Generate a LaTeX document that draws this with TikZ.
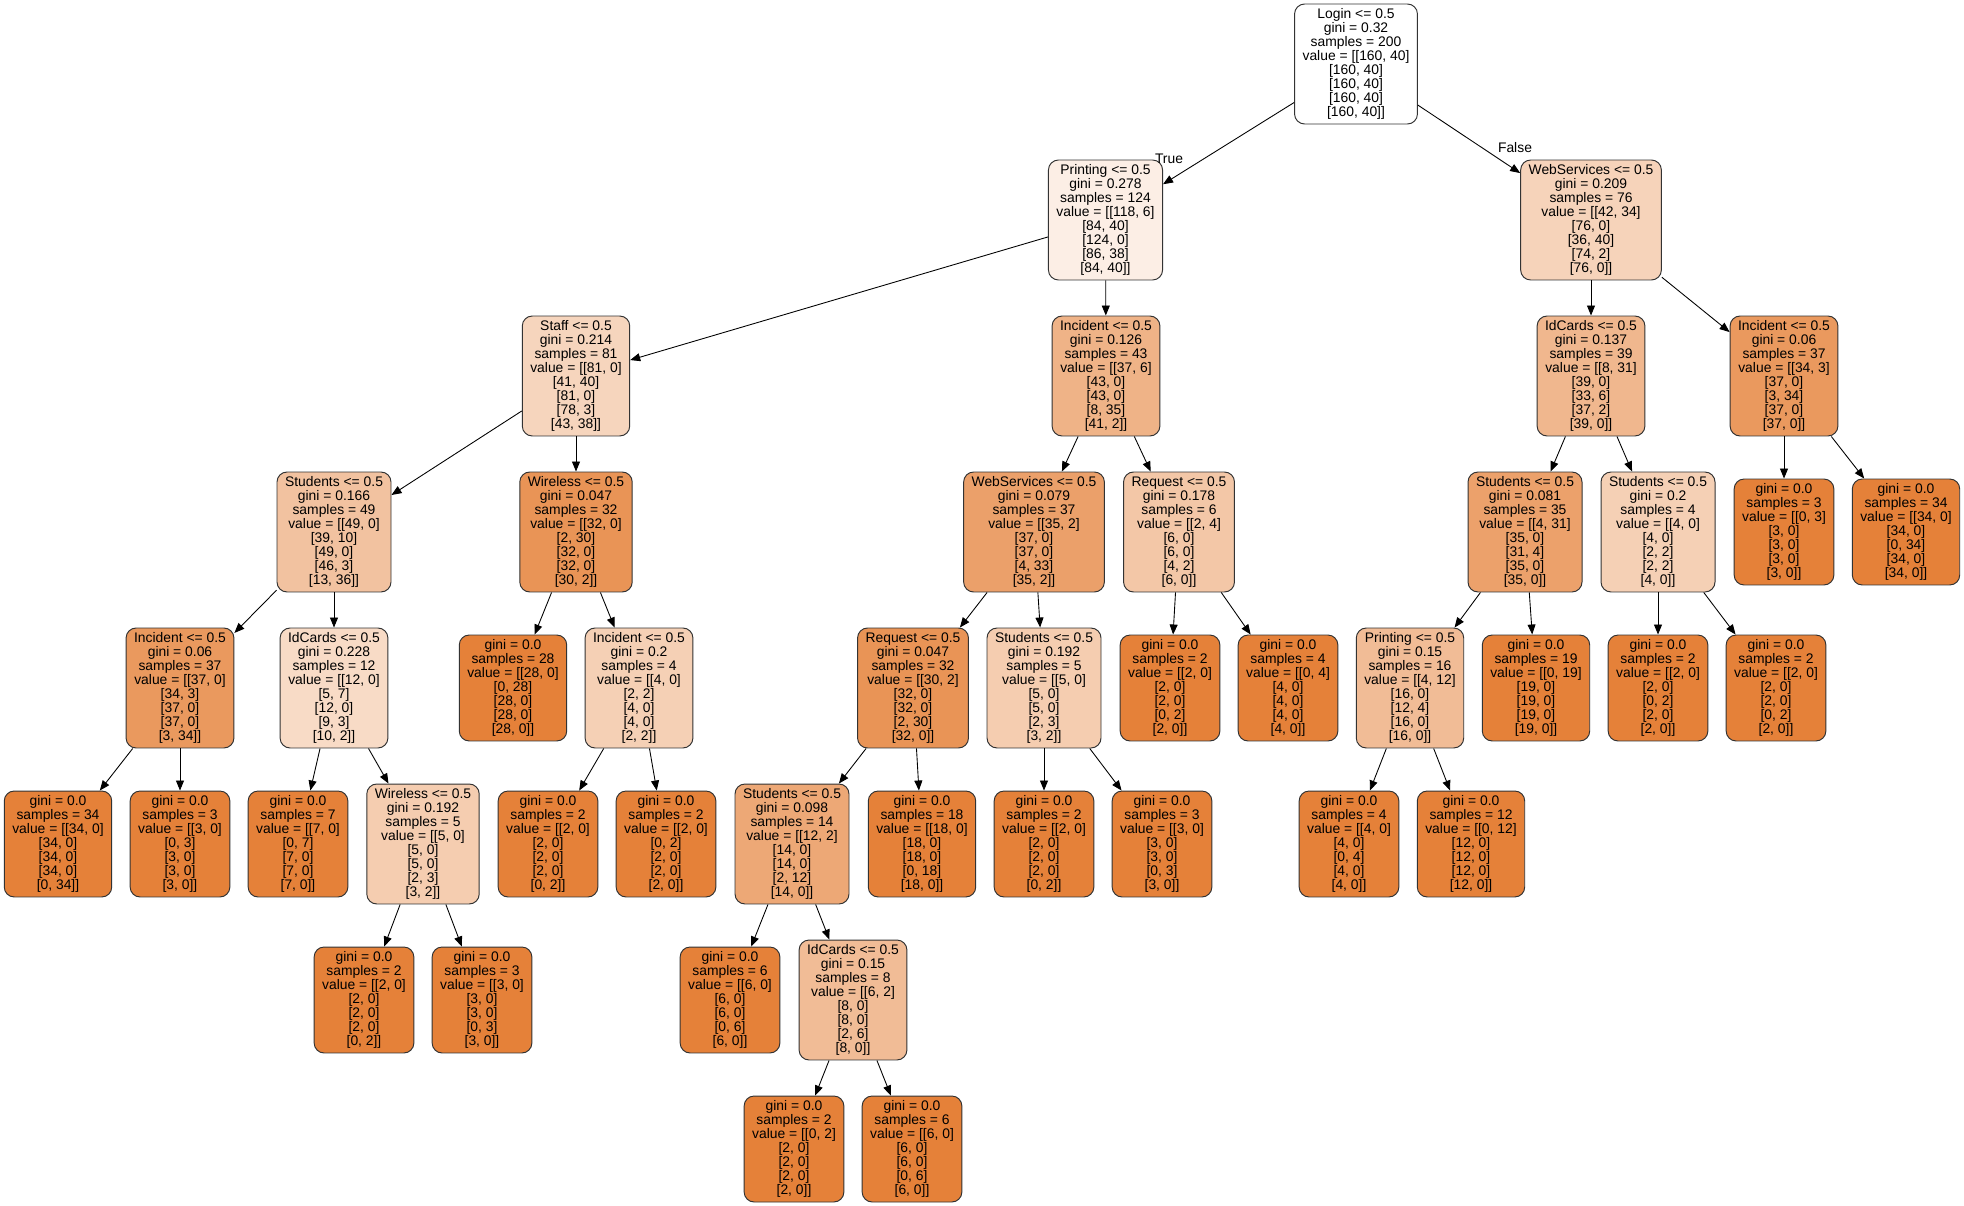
\documentclass[tikz,border=0pt]{standalone}
\usepackage{fontspec}
\setmainfont{Liberation Sans}
\usetikzlibrary{arrows.meta}
\definecolor{gorange}{RGB}{229,129,57}
\newcommand{\treefont}{\fontsize{7.9}{7.97}\selectfont}
\newcommand{\vals}[5]{value = [[#1]\\{}[#2]\\{}[#3]\\{}[#4]\\{}[#5]]}
\begin{document}
\begin{tikzpicture}[x=0.02cm, y=-0.02cm,
	box/.style={draw=black!80, line width=0.55pt, rounded corners=0.2cm, align=center, inner xsep=0.16cm, inner ysep=0pt, font=\treefont},
	split/.style={box, minimum height=2.4cm},
	leaf/.style={box, minimum height=2.12cm, fill=gorange},
	link/.style={-{Triangle[length=0.2cm, width=0.16cm]}, line width=0.5pt}]
	\useasboundingbox (0,0) rectangle (1964,1206);
	% Splits
	\node[split, fill=white] (root) at (1356,64) {Login <= 0.5\\gini = 0.32\\samples = 200\\\vals{160, 40}{160, 40}{160, 40}{160, 40}{160, 40}};
	\node[split, fill=gorange!13.1] (L) at (1105.5,220) {Printing <= 0.5\\gini = 0.278\\samples = 124\\\vals{118, 6}{84, 40}{124, 0}{86, 38}{84, 40}};
	\node[split, fill=gorange!34.7] (R) at (1591,220) {WebServices <= 0.5\\gini = 0.209\\samples = 76\\\vals{42, 34}{76, 0}{36, 40}{74, 2}{76, 0}};
	\node[split, fill=gorange!33.1] (LL) at (576,376) {Staff <= 0.5\\gini = 0.214\\samples = 81\\\vals{81, 0}{41, 40}{81, 0}{78, 3}{43, 38}};
	\node[split, fill=gorange!60.6] (LR) at (1106,376) {Incident <= 0.5\\gini = 0.126\\samples = 43\\\vals{37, 6}{43, 0}{43, 0}{8, 35}{41, 2}};
	\node[split, fill=gorange!57.2] (RL) at (1591,376) {IdCards <= 0.5\\gini = 0.137\\samples = 39\\\vals{8, 31}{39, 0}{33, 6}{37, 2}{39, 0}};
	\node[split, fill=gorange!81.25] (RR) at (1784,376) {Incident <= 0.5\\gini = 0.06\\samples = 37\\\vals{34, 3}{37, 0}{3, 34}{37, 0}{37, 0}};
	\node[split, fill=gorange!48.1] (LLL) at (334,532) {Students <= 0.5\\gini = 0.166\\samples = 49\\\vals{49, 0}{39, 10}{49, 0}{46, 3}{13, 36}};
	\node[split, fill=gorange!85.3] (LLR) at (576,532) {Wireless <= 0.5\\gini = 0.047\\samples = 32\\\vals{32, 0}{2, 30}{32, 0}{32, 0}{30, 2}};
	\node[split, fill=gorange!75.3] (LRL) at (1034,532) {WebServices <= 0.5\\gini = 0.079\\samples = 37\\\vals{35, 2}{37, 0}{37, 0}{4, 33}{35, 2}};
	\node[split, fill=gorange!44.4] (LRR) at (1179,532) {Request <= 0.5\\gini = 0.178\\samples = 6\\\vals{2, 4}{6, 0}{6, 0}{4, 2}{6, 0}};
	\node[split, fill=gorange!74.7] (RLL) at (1525,532) {Students <= 0.5\\gini = 0.081\\samples = 35\\\vals{4, 31}{35, 0}{31, 4}{35, 0}{35, 0}};
	\node[split, fill=gorange!37.5] (RLR) at (1658,532) {Students <= 0.5\\gini = 0.2\\samples = 4\\\vals{4, 0}{4, 0}{2, 2}{2, 2}{4, 0}};
	\node[split, fill=gorange!81.25] (LLLL) at (180,688) {Incident <= 0.5\\gini = 0.06\\samples = 37\\\vals{37, 0}{34, 3}{37, 0}{37, 0}{3, 34}};
	\node[split, fill=gorange!28.75] (LLLR) at (334,688) {IdCards <= 0.5\\gini = 0.228\\samples = 12\\\vals{12, 0}{5, 7}{12, 0}{9, 3}{10, 2}};
	\node[split, fill=gorange!37.5] (LLRR) at (639,688) {Incident <= 0.5\\gini = 0.2\\samples = 4\\\vals{4, 0}{2, 2}{4, 0}{4, 0}{2, 2}};
	\node[split, fill=gorange!85.3] (LRLL) at (913,688) {Request <= 0.5\\gini = 0.047\\samples = 32\\\vals{30, 2}{32, 0}{32, 0}{2, 30}{32, 0}};
	\node[split, fill=gorange!40] (LRLR) at (1044,688) {Students <= 0.5\\gini = 0.192\\samples = 5\\\vals{5, 0}{5, 0}{5, 0}{2, 3}{3, 2}};
	\node[split, fill=gorange!53.1] (RLLL) at (1410,688) {Printing <= 0.5\\gini = 0.15\\samples = 16\\\vals{4, 12}{16, 0}{12, 4}{16, 0}{16, 0}};
	\node[split, fill=gorange!40] (LLLRR) at (423,844) {Wireless <= 0.5\\gini = 0.192\\samples = 5\\\vals{5, 0}{5, 0}{5, 0}{2, 3}{3, 2}};
	\node[split, fill=gorange!69.4] (LRLLL) at (792,844) {Students <= 0.5\\gini = 0.098\\samples = 14\\\vals{12, 2}{14, 0}{14, 0}{2, 12}{14, 0}};
	\node[split, fill=gorange!53.1] (LRLLLR) at (853,1000) {IdCards <= 0.5\\gini = 0.15\\samples = 8\\\vals{6, 2}{8, 0}{8, 0}{2, 6}{8, 0}};
	% Leaves
	\node[leaf] (RRL) at (1784,532) {gini = 0.0\\samples = 3\\\vals{0, 3}{3, 0}{3, 0}{3, 0}{3, 0}};
	\node[leaf] (RRR) at (1906,532) {gini = 0.0\\samples = 34\\\vals{34, 0}{34, 0}{0, 34}{34, 0}{34, 0}};
	\node[leaf] (LLRL) at (513,688) {gini = 0.0\\samples = 28\\\vals{28, 0}{0, 28}{28, 0}{28, 0}{28, 0}};
	\node[leaf] (LRRL) at (1170,688) {gini = 0.0\\samples = 2\\\vals{2, 0}{2, 0}{2, 0}{0, 2}{2, 0}};
	\node[leaf] (LRRR) at (1288,688) {gini = 0.0\\samples = 4\\\vals{0, 4}{4, 0}{4, 0}{4, 0}{4, 0}};
	\node[leaf] (RLLR) at (1536,688) {gini = 0.0\\samples = 19\\\vals{0, 19}{19, 0}{19, 0}{19, 0}{19, 0}};
	\node[leaf] (RLRL) at (1658,688) {gini = 0.0\\samples = 2\\\vals{2, 0}{2, 0}{0, 2}{2, 0}{2, 0}};
	\node[leaf] (RLRR) at (1776,688) {gini = 0.0\\samples = 2\\\vals{2, 0}{2, 0}{2, 0}{0, 2}{2, 0}};
	\node[leaf] (LLLLL) at (58,844) {gini = 0.0\\samples = 34\\\vals{34, 0}{34, 0}{34, 0}{34, 0}{0, 34}};
	\node[leaf] (LLLLR) at (180,844) {gini = 0.0\\samples = 3\\\vals{3, 0}{0, 3}{3, 0}{3, 0}{3, 0}};
	\node[leaf] (LLLRL) at (298,844) {gini = 0.0\\samples = 7\\\vals{7, 0}{0, 7}{7, 0}{7, 0}{7, 0}};
	\node[leaf] (LLRRL) at (548,844) {gini = 0.0\\samples = 2\\\vals{2, 0}{2, 0}{2, 0}{2, 0}{0, 2}};
	\node[leaf] (LLRRR) at (666,844) {gini = 0.0\\samples = 2\\\vals{2, 0}{0, 2}{2, 0}{2, 0}{2, 0}};
	\node[leaf] (LRLLR) at (922,844) {gini = 0.0\\samples = 18\\\vals{18, 0}{18, 0}{18, 0}{0, 18}{18, 0}};
	\node[leaf] (LRLRL) at (1044,844) {gini = 0.0\\samples = 2\\\vals{2, 0}{2, 0}{2, 0}{2, 0}{0, 2}};
	\node[leaf] (LRLRR) at (1162,844) {gini = 0.0\\samples = 3\\\vals{3, 0}{3, 0}{3, 0}{0, 3}{3, 0}};
	\node[leaf] (RLLLL) at (1349,844) {gini = 0.0\\samples = 4\\\vals{4, 0}{4, 0}{0, 4}{4, 0}{4, 0}};
	\node[leaf] (RLLLR) at (1471,844) {gini = 0.0\\samples = 12\\\vals{0, 12}{12, 0}{12, 0}{12, 0}{12, 0}};
	\node[leaf] (LLLRRL) at (364,1000) {gini = 0.0\\samples = 2\\\vals{2, 0}{2, 0}{2, 0}{2, 0}{0, 2}};
	\node[leaf] (LLLRRR) at (482,1000) {gini = 0.0\\samples = 3\\\vals{3, 0}{3, 0}{3, 0}{0, 3}{3, 0}};
	\node[leaf] (LRLLLL) at (730,1000) {gini = 0.0\\samples = 6\\\vals{6, 0}{6, 0}{6, 0}{0, 6}{6, 0}};
	\node[leaf] (LRLLLRL) at (794,1149) {gini = 0.0\\samples = 2\\\vals{0, 2}{2, 0}{2, 0}{2, 0}{2, 0}};
	\node[leaf] (LRLLLRR) at (912,1149) {gini = 0.0\\samples = 6\\\vals{6, 0}{6, 0}{6, 0}{0, 6}{6, 0}};
	% Edges
	\draw[link] (root) -- (L);
	\draw[link] (root) -- (R);
	\draw[link] (L) -- (LL);
	\draw[link] (L) -- (LR);
	\draw[link] (R) -- (RL);
	\draw[link] (R) -- (RR);
	\draw[link] (LL) -- (LLL);
	\draw[link] (LL) -- (LLR);
	\draw[link] (LR) -- (LRL);
	\draw[link] (LR) -- (LRR);
	\draw[link] (RL) -- (RLL);
	\draw[link] (RL) -- (RLR);
	\draw[link] (RR) -- (RRL);
	\draw[link] (RR) -- (RRR);
	\draw[link] (LLL) -- (LLLL);
	\draw[link] (LLL) -- (LLLR);
	\draw[link] (LLR) -- (LLRL);
	\draw[link] (LLR) -- (LLRR);
	\draw[link] (LRL) -- (LRLL);
	\draw[link] (LRL) -- (LRLR);
	\draw[link] (LRR) -- (LRRL);
	\draw[link] (LRR) -- (LRRR);
	\draw[link] (RLL) -- (RLLL);
	\draw[link] (RLL) -- (RLLR);
	\draw[link] (RLR) -- (RLRL);
	\draw[link] (RLR) -- (RLRR);
	\draw[link] (LLLL) -- (LLLLL);
	\draw[link] (LLLL) -- (LLLLR);
	\draw[link] (LLLR) -- (LLLRL);
	\draw[link] (LLLR) -- (LLLRR);
	\draw[link] (LLRR) -- (LLRRL);
	\draw[link] (LLRR) -- (LLRRR);
	\draw[link] (LRLL) -- (LRLLL);
	\draw[link] (LRLL) -- (LRLLR);
	\draw[link] (LRLR) -- (LRLRL);
	\draw[link] (LRLR) -- (LRLRR);
	\draw[link] (RLLL) -- (RLLLL);
	\draw[link] (RLLL) -- (RLLLR);
	\draw[link] (LLLRR) -- (LLLRRL);
	\draw[link] (LLLRR) -- (LLLRRR);
	\draw[link] (LRLLL) -- (LRLLLL);
	\draw[link] (LRLLL) -- (LRLLLR);
	\draw[link] (LRLLLR) -- (LRLLLRL);
	\draw[link] (LRLLLR) -- (LRLLLRR);
	% Labels
	\node[font=\treefont, inner sep=0pt] (truelbl) at (1169,159) {True};
	\node[font=\treefont, inner sep=0pt] (falselbl) at (1515,148) {False};
\end{tikzpicture}
\end{document}
